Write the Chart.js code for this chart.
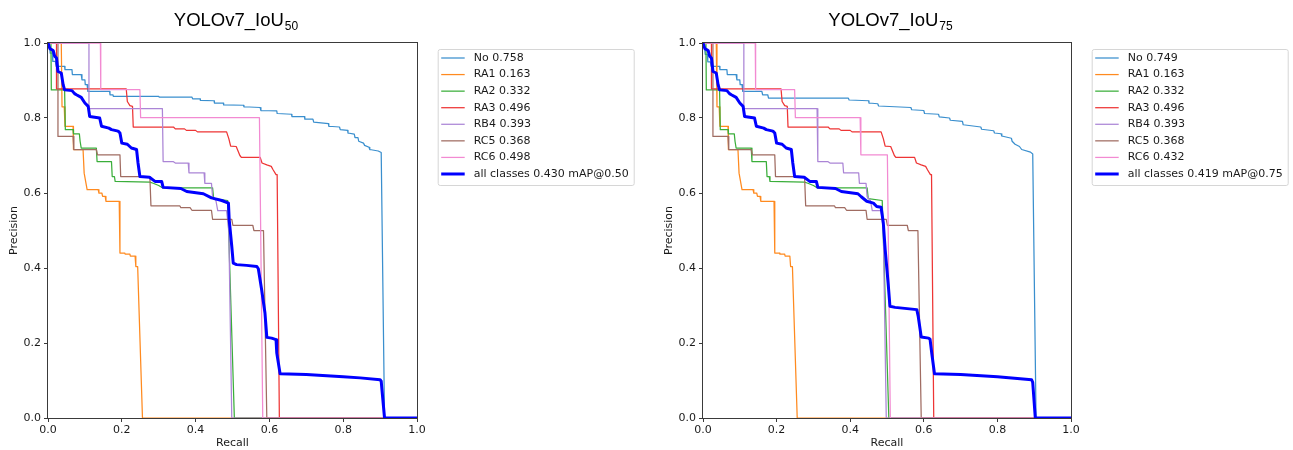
<!DOCTYPE html>
<html>
<head>
<meta charset="utf-8">
<script src="https://cdn.jsdelivr.net/npm/chart.js@4.4.0/dist/chart.umd.min.js"></script>
<style>
  body { margin: 0; background: #fff; width: 1293px; height: 450px; overflow: hidden; }
  .plot { position: absolute; top: 0; }
</style>
</head>
<body>
<div class="plot" style="left:0px"><canvas id="pr50" width="646" height="450"></canvas></div>
<div class="plot" style="left:655px"><canvas id="pr75" width="638" height="450"></canvas></div>
<script>
// class names and AP per class
const classNames = ['No', 'RA1', 'RA2', 'RA3', 'RB4', 'RC5', 'RC6'];
const ap50 = [0.758, 0.163, 0.332, 0.496, 0.393, 0.368, 0.498];
const ap75 = [0.749, 0.163, 0.332, 0.496, 0.393, 0.368, 0.432];
const map50 = 0.430;
const map75 = 0.419;
const classColors = ['#3a8fce', '#ff8a1f', '#3aae3a', '#ee3535', '#ab85d6', '#a06c62', '#f28ad2'];

// PR curves, [recall, precision] corners
const noCurve50 = [[0,1],[0.003,1],[0.006,0.973],[0.012,0.973],[0.013,0.951],[0.02,0.951],[0.022,0.938],[0.045,0.938],[0.046,0.929],[0.065,0.929],[0.066,0.916],[0.09,0.916],[0.092,0.902],[0.1,0.902],[0.101,0.889],[0.106,0.889],[0.108,0.871],[0.167,0.871],[0.168,0.862],[0.176,0.862],[0.177,0.858],[0.3,0.858],[0.301,0.856],[0.39,0.856],[0.392,0.851],[0.412,0.851],[0.413,0.847],[0.45,0.846],[0.451,0.84],[0.475,0.84],[0.476,0.835],[0.53,0.834],[0.531,0.83],[0.575,0.828],[0.577,0.82],[0.62,0.819],[0.621,0.812],[0.66,0.81],[0.661,0.804],[0.695,0.804],[0.696,0.797],[0.718,0.797],[0.72,0.789],[0.76,0.785],[0.761,0.778],[0.79,0.776],[0.792,0.769],[0.812,0.767],[0.813,0.76],[0.83,0.757],[0.832,0.748],[0.84,0.748],[0.842,0.738],[0.855,0.733],[0.858,0.727],[0.87,0.722],[0.872,0.716],[0.895,0.712],[0.903,0.708],[0.912,0],[1,0]];
const noCurve75 = [[0,1],[0.003,1],[0.006,0.97],[0.012,0.97],[0.013,0.95],[0.02,0.95],[0.022,0.938],[0.045,0.938],[0.046,0.929],[0.065,0.929],[0.066,0.916],[0.09,0.916],[0.092,0.902],[0.1,0.902],[0.101,0.889],[0.106,0.889],[0.108,0.871],[0.16,0.871],[0.162,0.862],[0.176,0.862],[0.178,0.853],[0.395,0.853],[0.397,0.848],[0.45,0.846],[0.451,0.84],[0.475,0.838],[0.477,0.832],[0.565,0.828],[0.567,0.822],[0.6,0.82],[0.602,0.812],[0.64,0.81],[0.642,0.803],[0.67,0.8],[0.672,0.794],[0.705,0.791],[0.707,0.782],[0.755,0.776],[0.757,0.77],[0.79,0.766],[0.792,0.76],[0.81,0.758],[0.812,0.752],[0.838,0.746],[0.84,0.738],[0.848,0.73],[0.86,0.724],[0.866,0.716],[0.89,0.709],[0.896,0.704],[0.905,0],[1,0]];
const ra1Curve = [[0,1],[0.036,1],[0.038,0.83],[0.044,0.83],[0.046,0.778],[0.068,0.778],[0.069,0.716],[0.095,0.716],[0.098,0.653],[0.106,0.609],[0.136,0.609],[0.138,0.6],[0.146,0.6],[0.148,0.591],[0.155,0.591],[0.157,0.578],[0.193,0.578],[0.195,0.44],[0.208,0.44],[0.209,0.437],[0.222,0.437],[0.223,0.432],[0.236,0.432],[0.238,0.404],[0.243,0.404],[0.256,0],[1,0]];
const ra2Curve = [[0,1],[0.008,1],[0.009,0.875],[0.045,0.875],[0.047,0.769],[0.068,0.769],[0.069,0.758],[0.085,0.758],[0.087,0.738],[0.09,0.72],[0.131,0.72],[0.133,0.684],[0.172,0.684],[0.174,0.644],[0.18,0.644],[0.182,0.631],[0.276,0.629],[0.285,0.626],[0.3,0.62],[0.31,0.614],[0.446,0.614],[0.449,0.585],[0.487,0.58],[0.505,0],[1,0]];
const ra3Curve = [[0,1],[0.023,1],[0.023,0.878],[0.212,0.878],[0.215,0.844],[0.222,0.833],[0.229,0.831],[0.231,0.776],[0.34,0.776],[0.345,0.771],[0.37,0.771],[0.375,0.767],[0.4,0.767],[0.405,0.763],[0.484,0.763],[0.49,0.745],[0.495,0.725],[0.51,0.724],[0.52,0.7],[0.524,0.695],[0.575,0.695],[0.58,0.68],[0.593,0.675],[0.605,0.671],[0.61,0.662],[0.618,0.649],[0.621,0.649],[0.627,0],[1,0]];
const rb4Curve = [[0,1],[0.111,1],[0.111,0.825],[0.31,0.825],[0.312,0.684],[0.339,0.684],[0.345,0.68],[0.38,0.68],[0.382,0.654],[0.423,0.654],[0.425,0.626],[0.443,0.626],[0.446,0.59],[0.455,0.58],[0.46,0.553],[0.484,0.553],[0.49,0.5],[0.498,0],[1,0]];
const rc5Curve = [[0,1],[0.027,1],[0.027,0.751],[0.068,0.751],[0.07,0.716],[0.131,0.716],[0.134,0.702],[0.195,0.702],[0.197,0.644],[0.276,0.644],[0.279,0.566],[0.357,0.566],[0.36,0.561],[0.385,0.561],[0.39,0.554],[0.443,0.554],[0.446,0.53],[0.498,0.53],[0.501,0.514],[0.555,0.514],[0.558,0.5],[0.584,0.5],[0.593,0],[1,0]];
const rc6Curve50 = [[0,1],[0.142,1],[0.143,0.876],[0.249,0.876],[0.251,0.801],[0.573,0.801],[0.582,0],[1,0]];
const rc6Curve75 = [[0,1],[0.142,1],[0.143,0.876],[0.249,0.876],[0.251,0.801],[0.427,0.801],[0.429,0.702],[0.501,0.702],[0.509,0],[1,0]];
const allCurve50 = [[0,1],[0.005,0.985],[0.014,0.98],[0.018,0.965],[0.023,0.96],[0.027,0.924],[0.036,0.92],[0.041,0.889],[0.045,0.875],[0.065,0.873],[0.072,0.865],[0.077,0.862],[0.09,0.855],[0.1,0.84],[0.109,0.831],[0.113,0.804],[0.14,0.8],[0.145,0.778],[0.165,0.773],[0.172,0.769],[0.19,0.765],[0.195,0.76],[0.2,0.733],[0.215,0.73],[0.226,0.72],[0.24,0.716],[0.244,0.68],[0.249,0.644],[0.275,0.642],[0.29,0.631],[0.308,0.631],[0.312,0.615],[0.36,0.612],[0.376,0.604],[0.421,0.598],[0.443,0.587],[0.471,0.58],[0.489,0.573],[0.491,0.529],[0.498,0.458],[0.502,0.413],[0.511,0.409],[0.538,0.407],[0.566,0.404],[0.57,0.398],[0.579,0.342],[0.588,0.28],[0.593,0.215],[0.606,0.213],[0.618,0.209],[0.62,0.173],[0.629,0.118],[0.7,0.116],[0.8,0.11],[0.846,0.107],[0.9,0.102],[0.903,0.098],[0.912,0],[1,0]];
const allCurve75 = [[0,1],[0.005,0.985],[0.014,0.98],[0.018,0.965],[0.023,0.96],[0.027,0.924],[0.036,0.92],[0.041,0.889],[0.045,0.875],[0.065,0.873],[0.072,0.865],[0.077,0.862],[0.09,0.855],[0.1,0.84],[0.109,0.831],[0.113,0.804],[0.14,0.8],[0.145,0.778],[0.165,0.773],[0.172,0.769],[0.19,0.765],[0.195,0.76],[0.2,0.733],[0.215,0.73],[0.226,0.72],[0.24,0.716],[0.244,0.68],[0.249,0.644],[0.275,0.642],[0.29,0.631],[0.308,0.631],[0.312,0.615],[0.36,0.612],[0.376,0.604],[0.421,0.598],[0.43,0.59],[0.445,0.578],[0.463,0.573],[0.472,0.564],[0.484,0.562],[0.49,0.52],[0.495,0.45],[0.503,0.36],[0.508,0.298],[0.522,0.295],[0.581,0.289],[0.585,0.27],[0.593,0.216],[0.613,0.213],[0.617,0.21],[0.622,0.17],[0.629,0.118],[0.7,0.116],[0.8,0.11],[0.893,0.102],[0.896,0.095],[0.903,0],[1,0]];

const tickValues = [0, 0.2, 0.4, 0.6, 0.8, 1.0];

const FONT = '"DejaVu Sans", sans-serif';
const INK = '#1a1a1a';

// frame, title with subscript, boxed legend
const decor = {
  id: 'decor',
  afterDatasetsDraw(chart) {
    const { ctx, chartArea: a } = chart;
    ctx.save();
    ctx.strokeStyle = '#3a3a3a';
    ctx.lineWidth = 1;
    ctx.strokeRect(Math.round(a.left) - 0.5, Math.round(a.top) - 0.5,
      Math.round(a.right - a.left) + 1, Math.round(a.bottom - a.top) + 1);
    ctx.restore();
  },
  afterDraw(chart, args, opts) {
    const { ctx, chartArea: a } = chart;
    ctx.save();
    // title
    ctx.fillStyle = '#000';
    ctx.textBaseline = 'alphabetic';
    ctx.textAlign = 'left';
    ctx.font = '18.5px "Liberation Sans", Arial, sans-serif';
    const w1 = ctx.measureText(opts.main).width;
    ctx.font = '12px "Liberation Sans", Arial, sans-serif';
    const w2 = ctx.measureText(opts.sub).width;
    const x0 = (a.left + a.right) / 2 + 3 - (w1 + w2) / 2;
    ctx.font = '18.5px "Liberation Sans", Arial, sans-serif';
    ctx.fillText(opts.main, x0, 26);
    ctx.font = '12px "Liberation Sans", Arial, sans-serif';
    ctx.fillText(opts.sub, x0 + w1 + 1, 29.5);

    // legend
    const ds = chart.data.datasets;
    ctx.font = '11px ' + FONT;
    let maxW = 0;
    ds.forEach(d => { maxW = Math.max(maxW, ctx.measureText(d.label).width); });
    const lx = a.right + 20.7, ly = 49;
    const lw = 36 + maxW + 5, lh = 136;
    ctx.beginPath();
    ctx.roundRect(lx + 0.5, ly + 0.5, lw, lh, 2);
    ctx.fillStyle = '#fff';
    ctx.fill();
    ctx.strokeStyle = '#d6d6d6';
    ctx.lineWidth = 1;
    ctx.stroke();
    ds.forEach((d, i) => {
      const y = 58 + i * 16.57;
      ctx.beginPath();
      ctx.moveTo(lx + 3.5, y);
      ctx.lineTo(lx + 27, y);
      ctx.strokeStyle = d.borderColor;
      ctx.lineWidth = d.borderWidth;
      ctx.stroke();
      ctx.fillStyle = INK;
      ctx.textBaseline = 'middle';
      ctx.fillText(d.label, lx + 36, y);
    });
    ctx.restore();
  }
};

function makeChart(id, classCurves, aps, allCurve, mapValue, iouTag, mapTag, rightPad) {
  const datasets = classCurves.map((curve, i) => ({
    label: classNames[i] + ' ' + aps[i].toFixed(3),
    data: curve.map(p => ({ x: p[0], y: p[1] })),
    borderColor: classColors[i],
    borderWidth: 1.25,
    order: classCurves.length + 1 - i
  }));
  datasets.push({
    label: 'all classes ' + mapValue.toFixed(3) + ' mAP@' + mapTag,
    data: allCurve.map(p => ({ x: p[0], y: p[1] })),
    borderColor: '#0000ff',
    borderWidth: 3,
    order: 0
  });

  const axis = (title, isX) => ({
    type: 'linear',
    min: 0,
    max: 1,
    afterBuildTicks: s => { s.ticks = tickValues.map(v => ({ value: v })); },
    ticks: {
      callback: v => v.toFixed(1),
      maxRotation: 0,
      autoSkip: false,
      padding: isX ? 2 : 3,
      color: INK,
      font: { family: FONT, size: 11 }
    },
    grid: { display: true, drawOnChartArea: false, drawTicks: true, tickLength: 4, color: '#3a3a3a' },
    border: { display: false },
    title: {
      display: true,
      text: title,
      color: INK,
      font: { family: FONT, size: 11 },
      padding: isX ? { top: 0, bottom: 0 } : { top: 8, bottom: 0 }
    },
    afterFit: s => {
      if (isX) { s.height = 32; } else { s.width = 48; }
      s.paddingLeft = 0; s.paddingRight = 0; s.paddingTop = 0; s.paddingBottom = 0;
    }
  });

  return new Chart(document.getElementById(id), {
    type: 'line',
    data: { datasets },
    options: {
      responsive: false,
      animation: false,
      devicePixelRatio: 1,
      layout: { padding: { top: 43, right: rightPad, left: 0, bottom: 0 } },
      elements: {
        point: { radius: 0, hoverRadius: 0 },
        line: { tension: 0, borderJoinStyle: 'round', borderCapStyle: 'butt', fill: false }
      },
      datasets: { line: { clip: 0 } },
      scales: { x: axis('Recall', true), y: axis('Precision', false) },
      plugins: {
        legend: { display: false },
        tooltip: { enabled: false },
        decor: { main: 'YOLOv7_IoU', sub: iouTag }
      }
    },
    plugins: [decor]
  });
}

makeChart('pr50', [noCurve50, ra1Curve, ra2Curve, ra3Curve, rb4Curve, rc5Curve, rc6Curve50],
  ap50, allCurve50, map50, '50', '0.50', 229);
makeChart('pr75', [noCurve75, ra1Curve, ra2Curve, ra3Curve, rb4Curve, rc5Curve, rc6Curve75],
  ap75, allCurve75, map75, '75', '0.75', 222);
</script>
</body>
</html>
